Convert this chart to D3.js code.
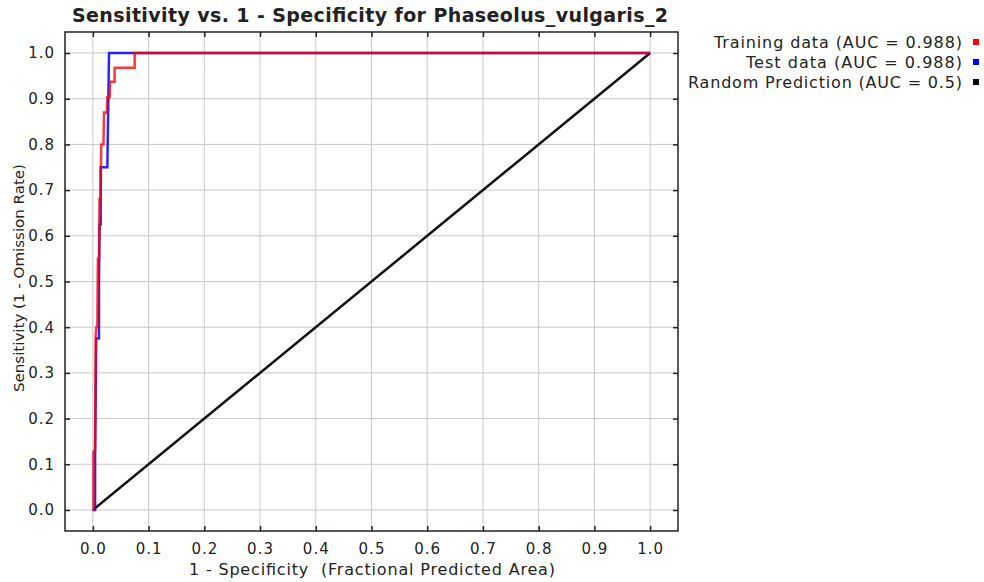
<!DOCTYPE html>
<html>
<head>
<meta charset="utf-8">
<script src="https://cdn.jsdelivr.net/npm/d3@7"></script>
<style>
  body { margin: 0; background: #fff; }
  text { font-family: "DejaVu Sans", sans-serif; fill: #222; white-space: pre; }
</style>
</head>
<body>
<svg id="chart" width="984" height="582"></svg>
<script>
// data
var ticks = [0, 0.1, 0.2, 0.3, 0.4, 0.5, 0.6, 0.7, 0.8, 0.9, 1.0];

var trainX = [0, 0.001, 0.001, 0.004, 0.005, 0.006, 0.008, 0.009, 0.011, 0.012, 0.014, 0.015, 0.019, 0.020, 0.025, 0.026, 0.030, 0.031, 0.039, 0.039, 0.075, 0.075, 1];
var trainY = [0, 0.000, 0.128, 0.130, 0.380, 0.400, 0.400, 0.550, 0.550, 0.680, 0.680, 0.800, 0.800, 0.870, 0.870, 0.904, 0.904, 0.937, 0.937, 0.968, 0.968, 1.000, 1];

var testX = [0, 0.004, 0.004, 0.005, 0.006, 0.011, 0.011, 0.012, 0.014, 0.014, 0.026, 0.029, 1];
var testY = [0, 0.000, 0.125, 0.250, 0.375, 0.375, 0.500, 0.625, 0.625, 0.750, 0.750, 1.000, 1];

var randomX = [0, 1];
var randomY = [0, 1];

var legendLabels = ["Training data (AUC = 0.988)", "Test data (AUC = 0.988)", "Random Prediction (AUC = 0.5)"];
var legendColors = ["#ff0000", "#0000ff", "#000000"];

function App(){
    this.svg = d3.select("#chart");
    this.left = 65; this.right = 678; this.top = 32; this.bottom = 531;
}

App.prototype = {

    draw: function(){
        var svg = this.svg, me = this;
        var x = d3.scaleLinear().domain([-0.05, 1.05]).range([this.left, this.right]);
        var y = d3.scaleLinear().domain([-0.046, 1.046]).range([this.bottom, this.top]);

        // grid
        var g = svg.append("g");
        g.selectAll(".vg").data(ticks).enter().append("line")
            .attr("x1", function(d){ return x(d); }).attr("x2", function(d){ return x(d); })
            .attr("y1", this.top).attr("y2", this.bottom)
            .attr("stroke", "#c8c8c8").attr("stroke-width", 1);
        g.selectAll(".hg").data(ticks).enter().append("line")
            .attr("y1", function(d){ return y(d); }).attr("y2", function(d){ return y(d); })
            .attr("x1", this.left).attr("x2", this.right)
            .attr("stroke", "#c8c8c8").attr("stroke-width", 1);

        // axes with inward ticks on every side
        var fmt = d3.format(".1f");
        svg.append("g").attr("transform", "translate(0," + this.bottom + ")")
            .call(d3.axisBottom(x).tickValues(ticks).tickSize(-5).tickPadding(12).tickFormat(fmt))
            .call(this.styleAxis);
        svg.append("g").attr("transform", "translate(0," + this.top + ")")
            .call(d3.axisTop(x).tickValues(ticks).tickSize(-5).tickFormat(""))
            .call(this.styleAxis);
        svg.append("g").attr("transform", "translate(" + this.left + ",0)")
            .call(d3.axisLeft(y).tickValues(ticks).tickSize(-5).tickPadding(10).tickFormat(fmt))
            .call(this.styleAxis);
        svg.append("g").attr("transform", "translate(" + this.right + ",0)")
            .call(d3.axisRight(y).tickValues(ticks).tickSize(-5).tickFormat(""))
            .call(this.styleAxis);

        // curves
        var line = d3.line()
            .x(function(d){ return x(d[0]); })
            .y(function(d){ return y(d[1]); });
        var zip = function(a, b){ return a.map(function(v, i){ return [v, b[i]]; }); };

        svg.append("path").datum(zip(randomX, randomY)).attr("d", line)
            .attr("fill", "none").attr("stroke", "#111").attr("stroke-width", 2.5);
        svg.append("path").datum(zip(testX, testY)).attr("d", line)
            .attr("fill", "none").attr("stroke", "#0000ff").attr("stroke-width", 2.5)
            .attr("stroke-opacity", 0.85);
        svg.append("path").datum(zip(trainX, trainY)).attr("d", line)
            .attr("fill", "none").attr("stroke", "#ff0000").attr("stroke-width", 2.5)
            .attr("stroke-opacity", 0.78);

        // frame
        svg.append("rect").attr("x", this.left).attr("y", this.top)
            .attr("width", this.right - this.left).attr("height", this.bottom - this.top)
            .attr("fill", "none").attr("stroke", "#222").attr("stroke-width", 1.5);

        // titles
        svg.append("text").attr("x", 370).attr("y", 22).attr("text-anchor", "middle")
            .style("font-size", "19px").style("font-weight", "bold")
            .attr("textLength", 596).attr("lengthAdjust", "spacing")
            .text("Sensitivity vs. 1 - Specificity for Phaseolus_vulgaris_2");
        svg.append("text").attr("x", 372).attr("y", 575).attr("text-anchor", "middle")
            .style("font-size", "16px")
            .attr("textLength", 366).attr("lengthAdjust", "spacing")
            .text("1 - Specificity  (Fractional Predicted Area)");
        svg.append("text").attr("transform", "translate(24," + (278) + ") rotate(-90)")
            .attr("text-anchor", "middle").style("font-size", "14px")
            .attr("textLength", 228).attr("lengthAdjust", "spacingAndGlyphs")
            .text("Sensitivity (1 - Omission Rate)");

        // legend
        var widths = [248, 216, 274];
        var lg = svg.append("g");
        legendLabels.forEach(function(t, i){
            lg.append("text").attr("x", 962).attr("y", 48 + i * 20).attr("text-anchor", "end")
                .style("font-size", "16px")
                .attr("textLength", widths[i]).attr("lengthAdjust", "spacing")
                .text(t);
            lg.append("rect").attr("x", 973).attr("y", 39 + i * 20).attr("width", 6).attr("height", 6)
                .attr("fill", legendColors[i]);
        });
    },

    styleAxis: function(sel){
        sel.select(".domain").remove();
        sel.selectAll(".tick line").attr("stroke", "#222").attr("stroke-width", 1.5);
        sel.selectAll(".tick text").style("font-size", "15px").style("font-family", "DejaVu Sans, sans-serif")
            .attr("fill", "#222").style("letter-spacing", "1px");
    }
};

new App().draw();
</script>
</body>
</html>
